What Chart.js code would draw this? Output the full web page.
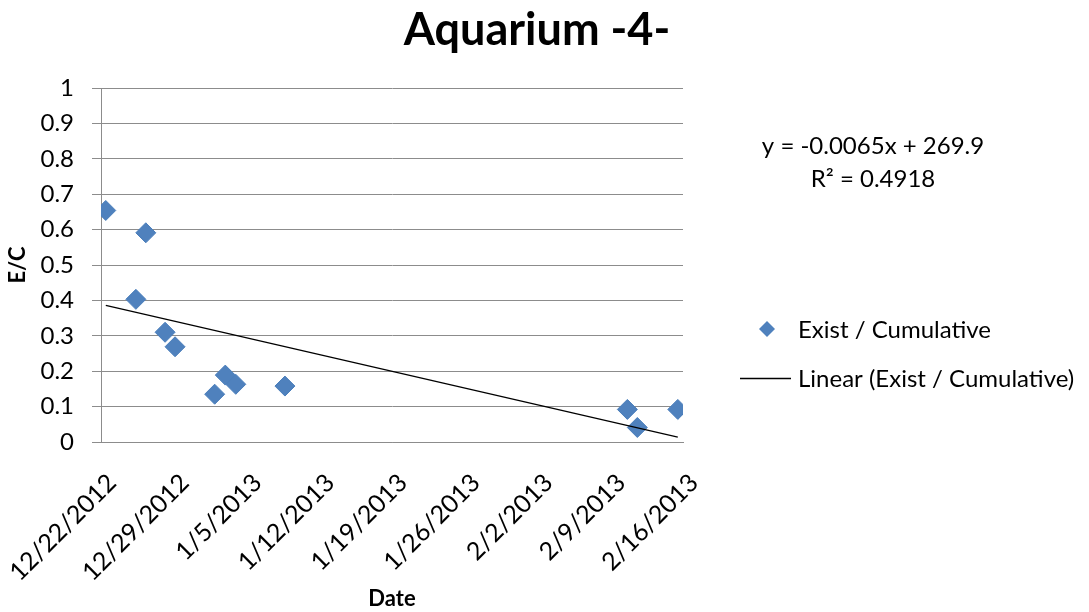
<!DOCTYPE html>
<html>
<head>
<meta charset="utf-8">
<title>Aquarium -4-</title>
<script src="https://cdn.jsdelivr.net/npm/chart.js@4.4.1/dist/chart.umd.min.js"></script>
<style>
  html, body { margin: 0; padding: 0; background: #ffffff; }
  canvas { display: block; }
</style>
</head>
<body>
<canvas id="chart" width="1089" height="612"></canvas>
<script>
// Sampling times (local clock) and measured E/C ratio
const sampleTimes = [
  '2012-12-22 11:00', '2012-12-25 08:30', '2012-12-26 07:30', '2012-12-28 04:00',
  '2012-12-29 03:00', '2013-01-01 22:30', '2013-01-02 23:00', '2013-01-03 23:15',
  '2013-01-08 16:45', '2013-02-10 15:30', '2013-02-11 14:30', '2013-02-15 12:00'
];
const existCumulative = [0.654, 0.403, 0.591, 0.310, 0.269, 0.135, 0.189, 0.163, 0.158, 0.092, 0.041, 0.092];

// Weekly date ticks along the horizontal axis
const dateTickLabels = ['12/22/2012', '12/29/2012', '1/5/2013', '1/12/2013', '1/19/2013',
                        '1/26/2013', '2/2/2013', '2/9/2013', '2/16/2013'];
const yTickValues = [0, 0.1, 0.2, 0.3, 0.4, 0.5, 0.6, 0.7, 0.8, 0.9, 1];

const chartTitle = 'Aquarium -4-';
const seriesName = 'Exist / Cumulative';
const trendName = 'Linear (Exist / Cumulative)';
const trendEquation = ['y = -0.0065x + 269.9', 'R\u00B2 = 0.4918'];

const FONT = 'Lato, "Open Sans", "Liberation Sans", sans-serif';
const BLUE = '#4F81BD';
const GRID = '#8c8c8c';

// Days elapsed since the first weekly tick
const AXIS_START = Date.UTC(2012, 11, 22);
function dayOffset(stamp) {
  const [d, t] = stamp.split(' ');
  const [yy, mm, dd] = d.split('-').map(Number);
  const [hh, mi] = t.split(':').map(Number);
  return (Date.UTC(yy, mm - 1, dd, hh, mi) - AXIS_START) / 86400000;
}
const xDays = sampleTimes.map(dayOffset);
const points = xDays.map((x, i) => ({ x, y: existCumulative[i] }));

// Ordinary least-squares trendline across the sampled range
const n = points.length;
const mx = xDays.reduce((a, b) => a + b, 0) / n;
const my = existCumulative.reduce((a, b) => a + b, 0) / n;
let sxy = 0, sxx = 0;
for (let i = 0; i < n; i++) {
  sxy += (xDays[i] - mx) * (existCumulative[i] - my);
  sxx += (xDays[i] - mx) * (xDays[i] - mx);
}
const slope = sxy / sxx;
const intercept = my - slope * mx;
const xMin = Math.min(...xDays), xMax = Math.max(...xDays);
const trendPoints = [
  { x: xMin, y: intercept + slope * xMin },
  { x: xMax, y: intercept + slope * xMax }
];

// Title, trend equation and legend drawn beside the plot
const sidePanel = {
  id: 'sidePanel',
  afterDraw(chart) {
    const ctx = chart.ctx;
    ctx.save();
    ctx.fillStyle = '#000';
    ctx.textBaseline = 'middle';

    ctx.font = 'bold 45px ' + FONT;
    ctx.textAlign = 'center';
    ctx.fillText(chartTitle, 537, 30);

    ctx.font = '24px ' + FONT;
    ctx.fillText(trendEquation[0], 873, 146);
    ctx.fillText(trendEquation[1], 873, 179);

    // legend: marker entry
    ctx.fillStyle = BLUE;
    ctx.beginPath();
    ctx.moveTo(767, 321); ctx.lineTo(775, 329); ctx.lineTo(767, 337); ctx.lineTo(759, 329);
    ctx.closePath();
    ctx.fill();
    // legend: trendline entry
    ctx.strokeStyle = '#000';
    ctx.lineWidth = 1.3;
    ctx.beginPath();
    ctx.moveTo(740, 378.5); ctx.lineTo(791, 378.5);
    ctx.stroke();

    ctx.fillStyle = '#000';
    ctx.textAlign = 'left';
    ctx.fillText(seriesName, 798, 330);
    ctx.fillText(trendName, 798, 379);
    ctx.restore();
  }
};

new Chart(document.getElementById('chart'), {
  type: 'scatter',
  data: {
    datasets: [
      {
        label: seriesName,
        data: points,
        pointStyle: 'rectRot',
        pointRadius: 10,
        pointHoverRadius: 10,
        backgroundColor: BLUE,
        borderColor: '#4A7EBB',
        borderWidth: 1,
        showLine: false,
        order: 1
      },
      {
        type: 'line',
        label: trendName,
        data: trendPoints,
        borderColor: '#000',
        borderWidth: 1.3,
        pointRadius: 0,
        fill: false,
        order: 0
      }
    ]
  },
  options: {
    responsive: false,
    animation: false,
    devicePixelRatio: 1,
    layout: { padding: { left: 0, right: 406, top: 88, bottom: 0 } },
    plugins: {
      legend: { display: false },
      tooltip: { enabled: false },
      title: { display: false }
    },
    scales: {
      x: {
        type: 'linear',
        min: 0,
        max: 56,
        afterBuildTicks(scale) {
          scale.ticks = dateTickLabels.map((_, i) => ({ value: i * 7 }));
        },
        afterFit(scale) {
          scale.height = 170;
          scale.paddingLeft = 0;
          scale.paddingRight = 0;
        },
        grid: { display: false },
        border: { display: true, color: GRID, width: 1 },
        ticks: {
          autoSkip: false,
          minRotation: 45,
          maxRotation: 45,
          padding: 18,
          labelOffset: 11,
          color: '#000',
          font: { family: FONT, size: 25 },
          callback: (v) => dateTickLabels[Math.round(v / 7)]
        },
        title: {
          display: true,
          text: 'Date',
          color: '#000',
          font: { family: FONT, size: 22, weight: 'bold' },
          padding: { top: 0, bottom: 0 }
        }
      },
      y: {
        min: 0,
        max: 1,
        afterBuildTicks(scale) {
          scale.ticks = yTickValues.map(v => ({ value: v }));
        },
        afterFit(scale) {
          scale.width = 101;
          scale.paddingTop = 0;
          scale.paddingBottom = 0;
        },
        grid: { color: GRID, lineWidth: 1, drawTicks: true, tickLength: 9 },
        border: { display: true, color: GRID, width: 1 },
        ticks: {
          padding: 18,
          color: '#000',
          font: { family: FONT, size: 24 },
          callback: (v) => String(Math.round(v * 10) / 10)
        },
        title: {
          display: true,
          text: 'E/C',
          color: '#000',
          font: { family: FONT, size: 22, weight: 'bold' },
          padding: { top: 5, bottom: 0 }
        }
      }
    }
  },
  plugins: [sidePanel]
});
</script>
</body>
</html>
